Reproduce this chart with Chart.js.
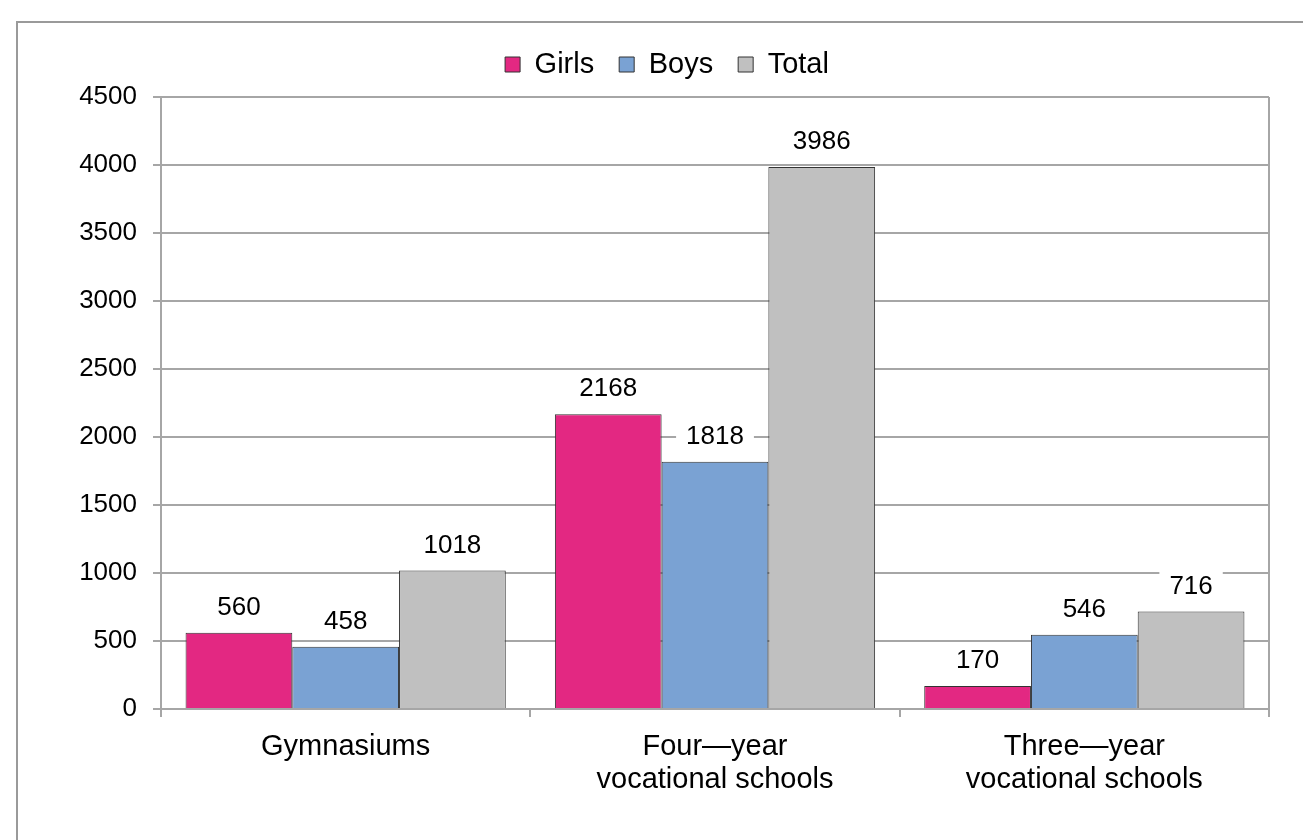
<!DOCTYPE html>
<html>
<head>
<meta charset="UTF-8">
<title>Students by school type</title>
<script src="https://cdn.jsdelivr.net/npm/chart.js@4/dist/chart.umd.min.js"></script>
<style>
    body { margin: 0; background: #fff; }
    #holder { width: 1303px; height: 840px; position: relative; }
</style>
</head>
<body>
<div id="holder"><canvas id="chart-area"></canvas></div>
<script>
    var categories = ["Gymnasiums", ["Four\u2014year", "vocational schools"], ["Three\u2014year", "vocational schools"]];
    var girls = [560, 2168, 170];
    var boys = [458, 1818, 546];
    var total = [1018, 3986, 716];
    var yTicks = [0, 500, 1000, 1500, 2000, 2500, 3000, 3500, 4000, 4500];

    var fontName = "'Liberation Sans', Arial, sans-serif";
    var legendGap = 8; // extra room under the legend

    // outer frame and right edge of the plot
    var framePlugin = {
        id: 'frame',
        afterInit: function (chart) {
            var lg = chart.legend;
            var oldFit = lg.fit;
            lg.fit = function () {
                oldFit.call(lg);
                lg.height += legendGap;
            };
        },
        beforeDraw: function (chart) {
            var ctx = chart.ctx;
            ctx.save();
            ctx.fillStyle = '#fff';
            ctx.fillRect(0, 0, chart.width, chart.height);
            ctx.strokeStyle = '#9a9a9a';
            ctx.lineWidth = 2;
            ctx.strokeRect(17, 22, chart.width + 20, chart.height + 20);
            ctx.restore();
        },
        afterDraw: function (chart) {
            var a = chart.chartArea, ctx = chart.ctx;
            ctx.save();
            ctx.strokeStyle = '#a6a6a6';
            ctx.lineWidth = 2;
            ctx.beginPath();
            ctx.moveTo(a.right, a.top);
            ctx.lineTo(a.right, a.bottom);
            ctx.stroke();
            ctx.restore();
        }
    };

    // value labels over bars, on white boxes
    var labelPlugin = {
        id: 'barLabels',
        afterDatasetsDraw: function (chart) {
            var ctx = chart.ctx;
            ctx.save();
            ctx.font = '26px ' + fontName;
            ctx.textAlign = 'center';
            ctx.textBaseline = 'middle';
            chart.data.datasets.forEach(function (ds, i) {
                chart.getDatasetMeta(i).data.forEach(function (bar, j) {
                    var txt = String(ds.data[j]);
                    var w = ctx.measureText(txt).width + 20;
                    var y = bar.y - 26;
                    ctx.fillStyle = '#fff';
                    ctx.fillRect(bar.x - w / 2, y - 16, w, 32);
                    ctx.fillStyle = '#000';
                    ctx.fillText(txt, bar.x, y + 1);
                });
            });
            ctx.restore();
        }
    };

    var config = {
        type: 'bar',
        data: {
            labels: categories,
            datasets: [
                { label: 'Girls', data: girls, backgroundColor: '#e32882', borderColor: '#333', borderWidth: 1 },
                { label: 'Boys', data: boys, backgroundColor: '#7aa2d3', borderColor: '#333', borderWidth: 1 },
                { label: 'Total', data: total, backgroundColor: '#c0c0c0', borderColor: '#333', borderWidth: 1 }
            ]
        },
        options: {
            responsive: true,
            maintainAspectRatio: false,
            animation: false,
            devicePixelRatio: 1,
            layout: { padding: { left: 65, right: 34, top: 25, bottom: 0 } },
            datasets: { bar: { categoryPercentage: 0.867, barPercentage: 1 } },
            plugins: {
                tooltip: { enabled: false },
                legend: {
                    position: 'top',
                    labels: {
                        font: { family: fontName, size: 29 },
                        color: '#000',
                        boxWidth: 15,
                        boxHeight: 15,
                        padding: 25
                    }
                }
            },
            scales: {
                x: {
                    afterFit: function (s) { s.height = 131; },
                    grid: { drawOnChartArea: false, drawTicks: true, tickLength: 8, color: '#a6a6a6', lineWidth: 2 },
                    border: { color: '#a6a6a6', width: 2 },
                    ticks: { color: '#000', font: { family: fontName, size: 29, lineHeight: 1.14 }, padding: 13, maxRotation: 0 }
                },
                y: {
                    min: 0,
                    max: 4500,
                    afterFit: function (s) { s.width = 96; },
                    afterBuildTicks: function (s) { s.ticks = yTicks.map(function (v) { return { value: v }; }); },
                    grid: { color: '#a6a6a6', lineWidth: 2, tickLength: 8 },
                    border: { color: '#a6a6a6', width: 2 },
                    ticks: {
                        color: '#000',
                        font: { family: fontName, size: 26 },
                        padding: 16,
                        callback: function (v) { return String(v); }
                    }
                }
            }
        },
        plugins: [framePlugin, labelPlugin]
    };

    var ctx = document.getElementById('chart-area').getContext('2d');
    window.myBar = new Chart(ctx, config);
</script>
</body>
</html>
